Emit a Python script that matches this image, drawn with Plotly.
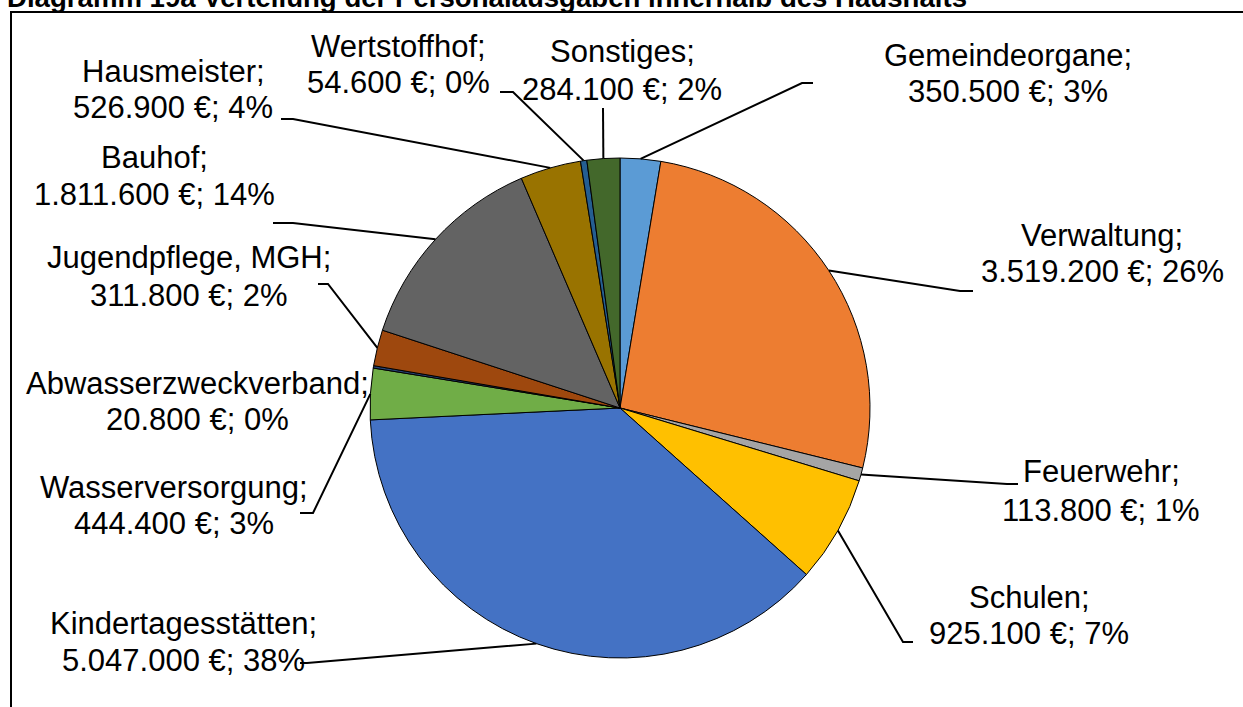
import math
import plotly.graph_objects as go

# ---------------- data ----------------
categories = ["Gemeindeorgane", "Verwaltung", "Feuerwehr", "Schulen", "Kindertagesstätten",
              "Wasserversorgung", "Abwasserzweckverband", "Jugendpflege, MGH", "Bauhof",
              "Hausmeister", "Wertstoffhof", "Sonstiges"]
values = [350500, 3519200, 113800, 925100, 5047000, 444400, 20800, 311800, 1811600,
          526900, 54600, 284100]
title_text = "Diagramm 19a Verteilung der Personalausgaben innerhalb des Haushalts"

# ---------------- style / layout ----------------
colors = ["#5B9BD5", "#ED7D31", "#A5A5A5", "#FFC000", "#4472C4", "#70AD47",
          "#264478", "#9E480E", "#636363", "#997300", "#255E91", "#43682B"]
# label centre x, first line y, second line y, leader elbow points (pixels)
label_pos = [
    (1008, 55, 91, [(802, 83), (813, 83)]),
    (1102, 235, 271, [(960, 291), (973, 291)]),
    (1101, 472, 510, [(1007, 484), (1018, 484)]),
    (1029, 597, 633, [(903, 642), (913, 642)]),
    (183, 623, 660, [(307, 663), (300, 663)]),
    (174, 487, 523, [(313, 513), (300, 513)]),
    (197, 383, 419, []),
    (189, 258, 295, [(328, 284), (318, 284)]),
    (154, 158, 195, [(293, 223), (273, 223)]),
    (173, 72, 108, [(293, 119), (281, 119)]),
    (398, 46, 82, [(513, 92), (500, 92)]),
    (622, 52, 89, [(603, 108)]),
]

W, H = 1243, 707
CX, CY, R = 620, 408, 250
FONT = "Liberation Sans, Arial, sans-serif"


def px(x):
    return x / W


def py(y):
    return 1 - y / H


total = sum(values)

fig = go.Figure()
fig.add_trace(go.Pie(
    labels=categories, values=values, sort=False, direction="clockwise", rotation=0,
    marker=dict(colors=colors, line=dict(color="#000000", width=1)),
    textinfo="none", hoverinfo="label+value+percent", showlegend=False,
    domain=dict(x=[px(CX - R), px(CX + R)], y=[py(CY + R), py(CY - R)]),
))

annotations = []
shapes = []
cum = 0
for name, v, (tx, y1, y2, elbow) in zip(categories, values, label_pos):
    mid = (cum + v / 2) / total * 2 * math.pi
    cum += v
    sx = CX + R * math.sin(mid)
    sy = CY - R * math.cos(mid)
    pct = round(100 * v / total)
    val_txt = f"{v:,}".replace(",", ".") + " €; " + f"{pct}%"
    for txt, yy in ((name + ";", y1), (val_txt, y2)):
        annotations.append(dict(
            x=px(tx), y=py(yy), xref="paper", yref="paper", text=txt, showarrow=False,
            xanchor="center", yanchor="middle",
            font=dict(family=FONT, size=31, color="#000000")))
    if elbow:
        pts = [(sx, sy)] + elbow
        path = "M " + " L ".join(f"{px(a)} {py(b)}" for a, b in pts)
        shapes.append(dict(type="path", path=path, xref="paper", yref="paper",
                           line=dict(color="#000000", width=2), layer="above"))

# frame
shapes.append(dict(type="rect", xref="paper", yref="paper",
                   x0=px(11), x1=1.05, y0=-0.05, y1=py(12),
                   line=dict(color="#000000", width=2), fillcolor="rgba(0,0,0,0)",
                   layer="below"))

annotations.append(dict(
    x=px(5), y=py(-2.5), xref="paper", yref="paper", text="<b>" + title_text + "</b>",
    showarrow=False, xanchor="left", yanchor="middle",
    font=dict(family=FONT, size=27.6, color="#000000")))

fig.update_layout(
    width=W, height=H, margin=dict(l=0, r=0, t=0, b=0),
    paper_bgcolor="white", plot_bgcolor="white",
    annotations=annotations, shapes=shapes, showlegend=False,
)

fig.write_html("out.html", config={"displayModeBar": False},
               post_script="document.body.style.margin='0';document.body.style.overflow='hidden';")
